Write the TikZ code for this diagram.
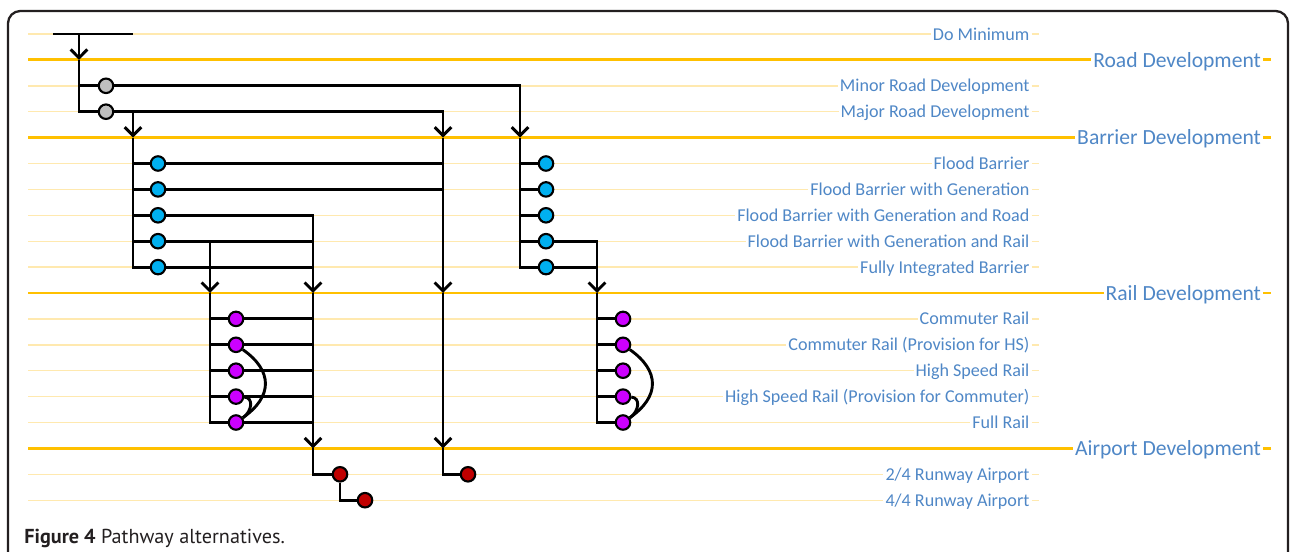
\documentclass[tikz,border=0pt]{standalone}
\usepackage{fontspec}
\setmainfont{Carlito}
\newfontfamily\capfont{PT Sans}
\usetikzlibrary{arrows.meta}
\definecolor{gold}{HTML}{FFC000}
\definecolor{pale}{HTML}{FFE9AF}
\definecolor{lblue}{HTML}{4F87C6}
\definecolor{ink}{HTML}{231F20}
\definecolor{gfill}{HTML}{BFBFBF}
\definecolor{bfill}{HTML}{00B0F0}
\definecolor{mfill}{HTML}{CC00FF}
\definecolor{rfill}{HTML}{C00000}
\tikzset{
  stage/.style={line width=1.7pt,color=gold},
  option/.style={line width=0.8pt,color=pale},
  slbl/.style={anchor=east,inner xsep=1pt,inner ysep=0pt,text height=8pt,text depth=1.1pt,color=lblue,font=\fontsize{10.3pt}{12pt}\selectfont},
  blbl/.style={anchor=east,inner xsep=1pt,inner ysep=0pt,text height=9.5pt,text depth=1.2pt,color=lblue,font=\fontsize{12.3pt}{14pt}\selectfont},
  flow/.style={line width=1.65pt,color=black},
  arr/.style={-{Straight Barb[length=4.8pt,width=9.5pt]}},
  choice/.style={circle,draw=black,line width=1.2pt,minimum size=0.29cm,inner sep=0pt},
  capt/.style={font=\capfont\fontsize{11.5pt}{13pt}\selectfont,color=ink,inner sep=0pt}}

\begin{document}
\begin{tikzpicture}[x=0.02cm,y=-0.02cm]
\useasboundingbox (0,0) rectangle (1290,551);
\draw[ink,line width=1.3pt,rounded corners=7pt] (8,600) -- (8,11) -- (1288,11) -- (1288,600);
% rows
\foreach \i/\txt in {0/Do Minimum,2/Minor Road Development,3/Major Road Development,
  5/Flood Barrier,6/Flood Barrier with Generation,7/Flood Barrier with Generation and Road,
  8/Flood Barrier with Generation and Rail,9/Fully Integrated Barrier,11/Commuter Rail,
  12/Commuter Rail (Provision for HS),13/High Speed Rail,14/High Speed Rail (Provision for Commuter),
  15/Full Rail,17/{2/4 Runway Airport},18/{4/4 Runway Airport}}{
  \pgfmathsetmacro\yy{34+25.9*\i}
  \node[slbl] (r\i) at (1031.5,\yy) {\txt};
  \draw[option] (28,\yy) -- (r\i.west) (r\i.east) -- ++(7,0);
}
\foreach \i/\txt in {1/Road Development,4/Barrier Development,10/Rail Development,16/Airport Development}{
  \pgfmathsetmacro\yy{34+25.9*\i}
  \node[blbl] (r\i) at (1263,\yy) {\txt};
  \draw[stage] (28,\yy) -- (r\i.west) (r\i.east) -- ++(8,0);
}
% columns
\coordinate (xStart) at (53,0);
\coordinate (xRoad) at (79,0);
\coordinate (xGrey) at (106,0);
\coordinate (xBar) at (133,0);
\coordinate (xBlue) at (158,0);
\coordinate (xRail) at (210,0);
\coordinate (xMag) at (236,0);
\coordinate (xAir) at (313,0);
\coordinate (xRed) at (340,0);
\coordinate (xRedB) at (365,0);
\coordinate (xMaj) at (443,0);
\coordinate (xRedC) at (468,0);
\coordinate (xBarR) at (520,0);
\coordinate (xBlueR) at (546,0);
\coordinate (xRailR) at (597,0);
\coordinate (xMagR) at (623,0);
% choices
\node[choice,fill=gfill] (g1) at (xGrey |- r2) {};
\node[choice,fill=gfill] (g2) at (xGrey |- r3) {};
\foreach \k [evaluate=\k as \n using int(\k+4)] in {1,...,5}{
  \node[choice,fill=bfill] (bl\k) at (xBlue |- r\n) {};
  \node[choice,fill=bfill] (br\k) at (xBlueR |- r\n) {};
}
\foreach \k [evaluate=\k as \n using int(\k+10)] in {1,...,5}{
  \node[choice,fill=mfill] (ml\k) at (xMag |- r\n) {};
  \node[choice,fill=mfill] (mr\k) at (xMagR |- r\n) {};
}
\node[choice,fill=rfill] (a1) at (xRed |- r17) {};
\node[choice,fill=rfill] (a2) at (xRedB |- r18) {};
\node[choice,fill=rfill] (a3) at (xRedC |- r17) {};
% road
\draw[flow] (xStart |- r0) -- (xBar |- r0);
\draw[flow,arr] (xRoad |- r0) -- (xRoad |- r1);
\draw[flow] (xRoad |- r1) |- (g1);
\draw[flow] (xRoad |- r2) |- (g2);
\draw[flow,arr] (g1) -| (xBarR |- r4);
\draw[flow,arr] (g2) -| (xMaj |- r4);
\draw[flow,arr] (xBar |- r3) -- (xBar |- r4);
% barrier
\draw[flow] (xBar |- r4) |- (bl5);
\draw[flow] (xBarR |- r4) |- (br5);
\foreach \k [evaluate=\k as \n using int(\k+4)] in {1,...,4}{
  \draw[flow] (xBar |- r\n) -- (bl\k);
  \draw[flow] (xBarR |- r\n) -- (br\k);
}
\draw[flow] (bl1) -- (xMaj |- r5);
\draw[flow] (bl2) -- (xMaj |- r6);
\draw[flow,arr] (bl3) -| (xAir |- r10);
\draw[flow] (bl4) -- (xAir |- r8);
\draw[flow] (bl5) -- (xAir |- r9);
\draw[flow,arr] (xRail |- r8) -- (xRail |- r10);
\draw[flow,arr] (br4) -| (xRailR |- r10);
\draw[flow] (br5) -- (xRailR |- r9);
\draw[flow,arr] (xMaj |- r4) -- (xMaj |- r10);
% rail
\draw[flow] (xRail |- r10) |- (ml5);
\draw[flow] (xRailR |- r10) |- (mr5);
\foreach \k [evaluate=\k as \n using int(\k+10)] in {1,...,4}{
  \draw[flow] (xRail |- r\n) -- (ml\k);
  \draw[flow] (xRailR |- r\n) -- (mr\k);
}
\foreach \k [evaluate=\k as \n using int(\k+10)] in {1,...,5}
  \draw[flow] (ml\k) -- (xAir |- r\n);
\draw[flow] (ml2) .. controls +(37,26) and +(37,-26) .. (ml5);
\draw[flow] (ml4) .. controls +(18,1) and +(16,-11) .. (ml5);
\draw[flow] (mr2) .. controls +(37,26) and +(37,-26) .. (mr5);
\draw[flow] (mr4) .. controls +(18,1) and +(16,-11) .. (mr5);
% airport
\draw[flow,arr] (xAir |- r10) -- (xAir |- r16);
\draw[flow,arr] (xMaj |- r10) -- (xMaj |- r16);
\draw[flow] (xAir |- r16) |- (a1);
\draw[flow] (a1) |- (a2);
\draw[flow] (xMaj |- r16) |- (a3);
\node[capt,anchor=base west] (cap) at (24,543) {\textbf{Figure 4} Pathway alternatives.};
\end{tikzpicture}
\end{document}
